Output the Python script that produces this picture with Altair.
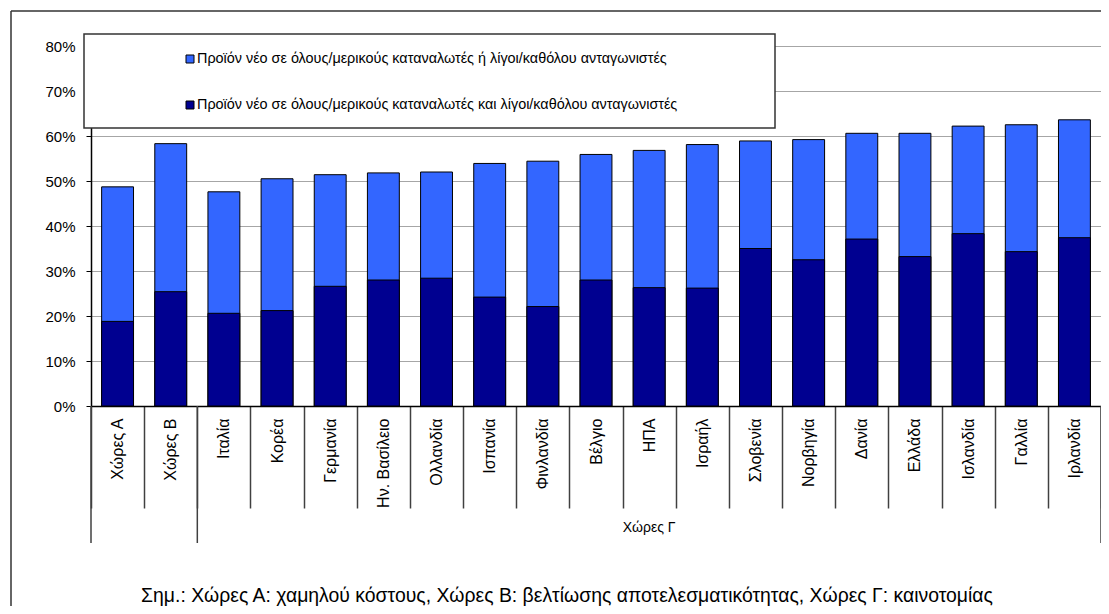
import altair as alt
import pandas as pd

# ---------------- data ----------------
categories = ["Χώρες Α", "Χώρες Β", "Ιταλία", "Κορέα", "Γερμανία", "Ην. Βασίλειο",
              "Ολλανδία", "Ισπανία", "Φινλανδία", "Βέλγιο", "ΗΠΑ", "Ισραήλ",
              "Σλοβενία", "Νορβηγία", "Δανία", "Ελλάδα", "Ισλανδία", "Γαλλία", "Ιρλανδία"]
share_or = [48.7, 58.3, 47.6, 50.5, 51.4, 51.8, 52.0, 53.9, 54.4, 55.9,
            56.8, 58.1, 58.9, 59.2, 60.6, 60.6, 62.2, 62.5, 63.6]
share_and = [18.8, 25.4, 20.6, 21.2, 26.6, 28.0, 28.4, 24.2, 22.1, 28.0,
             26.3, 26.2, 35.0, 32.5, 37.1, 33.2, 38.3, 34.3, 37.4]
series_names = ["Προϊόν νέο σε όλους/μερικούς καταναλωτές ή λίγοι/καθόλου ανταγωνιστές",
                "Προϊόν νέο σε όλους/μερικούς καταναλωτές και λίγοι/καθόλου ανταγωνιστές"]
series_colors = ["#3366FF", "#000090"]
y_ticks = [0, 0.1, 0.2, 0.3, 0.4, 0.5, 0.6, 0.7, 0.8]
group_c_label = "Χώρες Γ"
group_c_members = categories[2:]
group_starts = ["Χώρες Α", "Ιταλία"]
group_ends = ["Ιρλανδία"]
note = "Σημ.: Χώρες Α: χαμηλού κόστους,  Χώρες Β: βελτίωσης αποτελεσματικότητας, Χώρες Γ: καινοτομίας"

FONT = "Liberation Sans"

W, H = 1010, 360

df = pd.DataFrame({"cat": categories,
                   "or_v": [v / 100 for v in share_or],
                   "and_v": [v / 100 for v in share_and]})
one = pd.DataFrame({"k": [0]})

x_axis = alt.Axis(title=None, labelAngle=270, tickBand="extent", tickSize=102,
                  tickColor="#404040", tickWidth=1.5, labelPadding=-90,
                  labelFont=FONT, labelFontSize=16, labelColor="black",
                  labelOverlap=False, domainColor="black", domainWidth=1.5,
                  grid=False, zindex=0)
x_enc = alt.X("cat:N", sort=categories,
              scale=alt.Scale(paddingInner=0, paddingOuter=0), axis=x_axis)
y_axis = alt.Axis(title=None, values=y_ticks, format=".0%", tickSize=5,
                  tickColor="black", domainColor="black", domainWidth=1.5,
                  labelPadding=11, labelFont=FONT, labelFontSize=15,
                  labelColor="black", grid=True, gridColor="#A6A6A6",
                  gridWidth=1, zindex=0)
y_scale = alt.Scale(domain=[0, 0.8], nice=False)

bars_or = alt.Chart(df).mark_bar(width=alt.RelativeBandSize(0.6), color=series_colors[0],
                                 stroke="black", strokeWidth=1).encode(
    x=x_enc, y=alt.Y("or_v:Q", scale=y_scale, axis=y_axis))
bars_and = alt.Chart(df).mark_bar(width=alt.RelativeBandSize(0.6), color=series_colors[1],
                                  stroke="black", strokeWidth=1).encode(
    x=x_enc, y=alt.Y("and_v:Q", scale=y_scale, axis=y_axis))

sep_start = alt.Chart(pd.DataFrame({"cat": group_starts})).mark_rule(
    color="#404040", strokeWidth=1.5).encode(
    x=alt.X("cat:N", sort=categories, bandPosition=0),
    y=alt.value(360), y2=alt.value(497))
sep_end = alt.Chart(pd.DataFrame({"cat": group_ends})).mark_rule(
    color="#404040", strokeWidth=1.5).encode(
    x=alt.X("cat:N", sort=categories, bandPosition=1),
    y=alt.value(360), y2=alt.value(497))

mid_cat = group_c_members[len(group_c_members) // 2]
group_text = alt.Chart(pd.DataFrame({"cat": [mid_cat], "t": [group_c_label]})).mark_text(
    font=FONT, fontSize=14, baseline="middle", align="center", color="black").encode(
    x=alt.X("cat:N", sort=categories, bandPosition=0.5), y=alt.value(482), text="t:N")

note_text = alt.Chart(one).mark_text(font=FONT, fontSize=19.4, align="center",
                                     baseline="alphabetic", color="black").encode(
    x=alt.value(476), y=alt.value(556), text=alt.value(note))

frame_left = alt.Chart(one).mark_rule(color="#333333", strokeWidth=1.5).encode(
    x=alt.value(-80), y=alt.value(-35), y2=alt.value(600))
frame_top = alt.Chart(one).mark_rule(color="#333333", strokeWidth=1.5).encode(
    x=alt.value(-80), x2=alt.value(1020), y=alt.value(-35))

legend_box = alt.Chart(one).mark_rect(fill="white", stroke="#333333", strokeWidth=1.5).encode(
    x=alt.value(-7), x2=alt.value(684), y=alt.value(-12), y2=alt.value(82))

legend_layers = []
for i, (name, color) in enumerate(zip(series_names, series_colors)):
    row_y = 13 + 46 * i
    legend_layers.append(alt.Chart(one).mark_square(
        filled=True, color=color, stroke="black", strokeWidth=1, size=64, opacity=1).encode(
        x=alt.value(99), y=alt.value(row_y)))
    legend_layers.append(alt.Chart(one).mark_text(
        font=FONT, fontSize=14.4, align="left", baseline="middle", color="black").encode(
        x=alt.value(106), y=alt.value(row_y), text=alt.value(name)))

chart = alt.layer(
    bars_or, bars_and, sep_start, sep_end, group_text, note_text,
    frame_left, frame_top, legend_box, *legend_layers
).properties(
    width=W, height=H,
    autosize=alt.AutoSizeParams(type="none"),
    padding={"left": 83, "top": 38, "right": 0, "bottom": 200},
    background="white",
).configure_view(stroke=None)

chart.save("out.html", embed_options={"renderer": "svg", "actions": False})
